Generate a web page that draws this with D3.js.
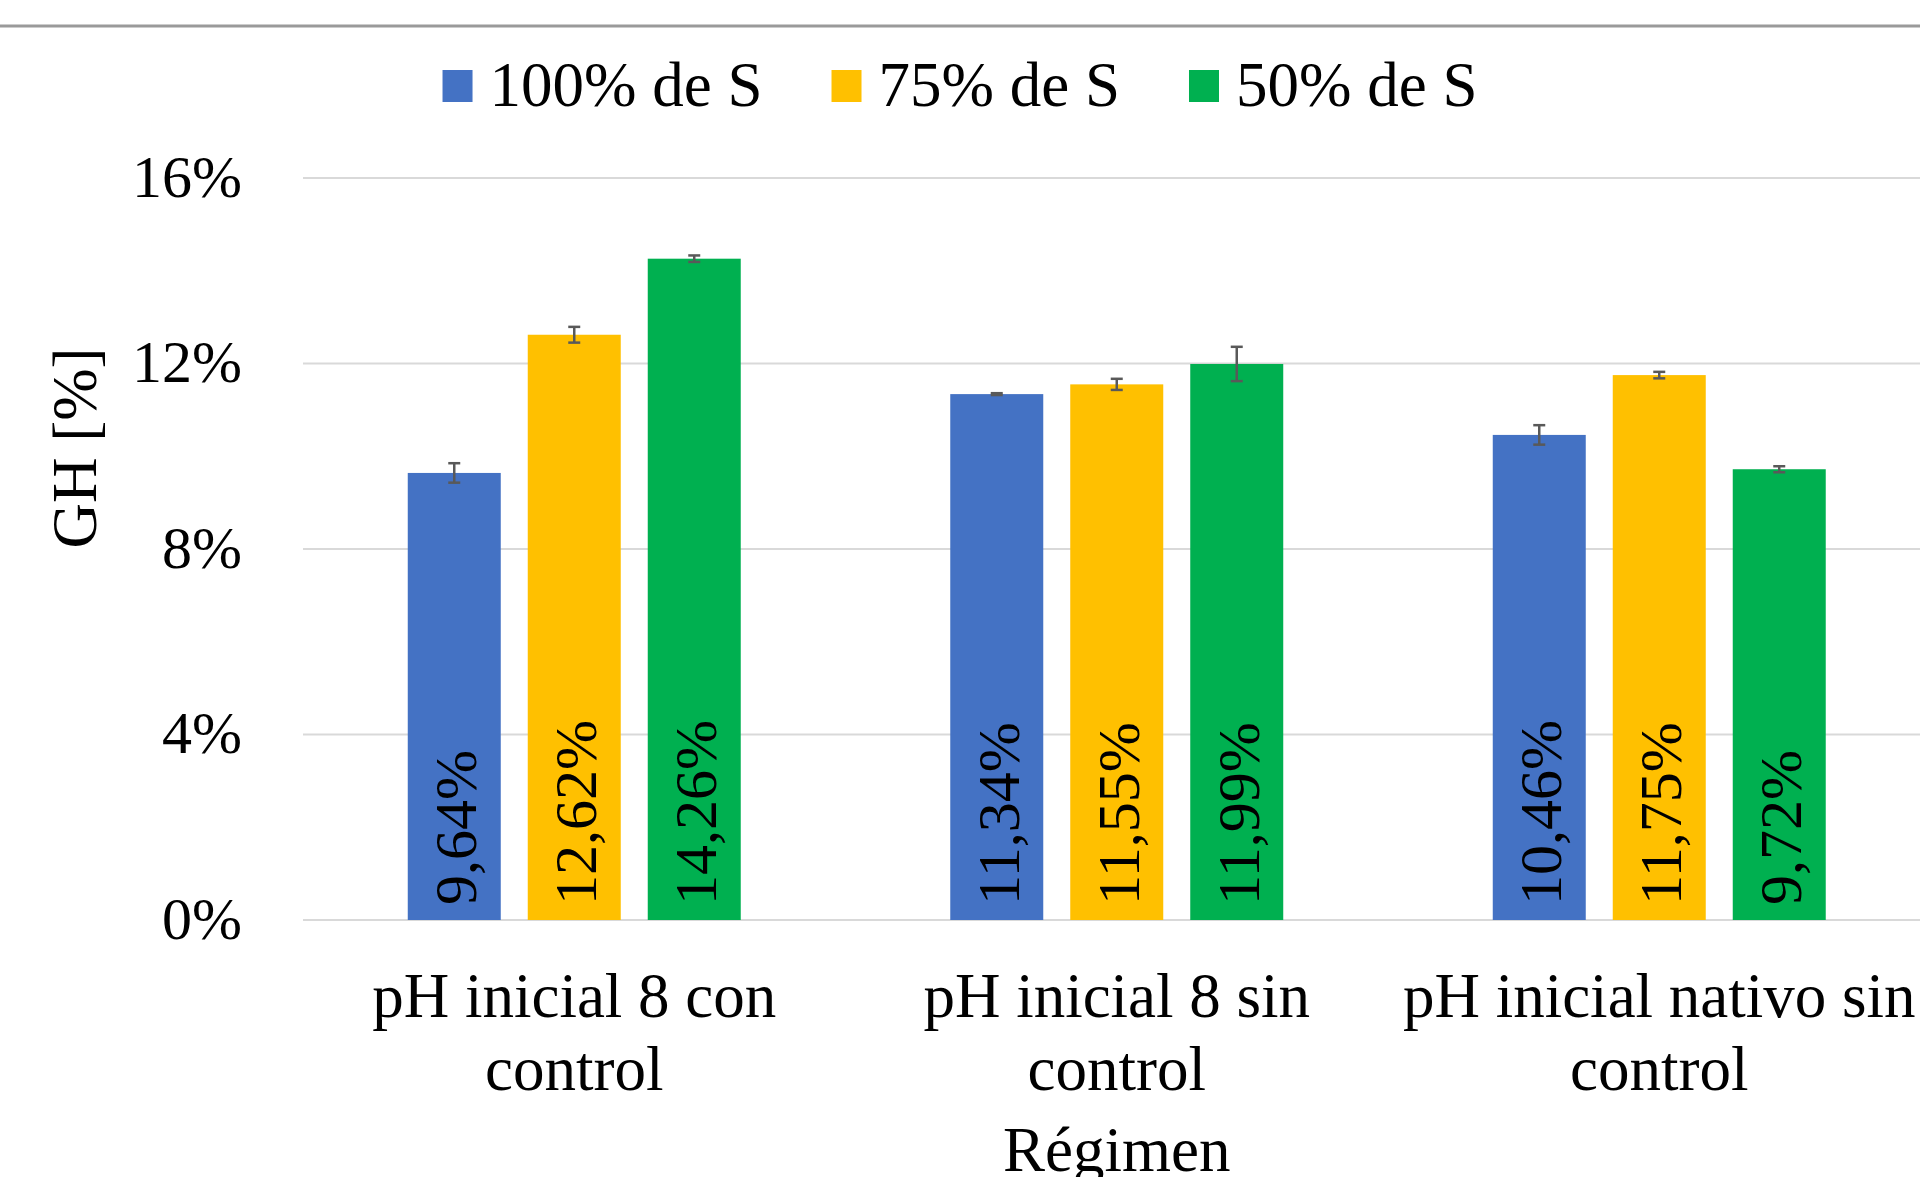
<!DOCTYPE html>
<html>
<head>
<meta charset="utf-8">
<script src="https://cdn.jsdelivr.net/npm/d3@7"></script>
<style>
  html, body { margin: 0; padding: 0; background: #fff; overflow: hidden; }
  svg { display: block; }
  text { font-family: "Liberation Serif", "Times New Roman", serif; fill: #000; }
</style>
</head>
<body>
<svg id="chart" width="1920" height="1177"></svg>
<script>
// ---- data ----
const categories = [
  ["pH inicial 8 con", "control"],
  ["pH inicial 8 sin", "control"],
  ["pH inicial nativo sin", "control"]
];
const seriesNames = ["100% de S", "75% de S", "50% de S"];
const seriesColors = ["#4472C4", "#FFC000", "#00B050"];
const values100 = [9.64, 11.34, 10.46];
const values75 = [12.62, 11.55, 11.75];
const values50 = [14.26, 11.99, 9.72];
const errors100 = [0.21, 0.02, 0.21];
const errors75 = [0.17, 0.12, 0.07];
const errors50 = [0.07, 0.37, 0.065];
const yTicks = [0, 4, 8, 12, 16];
const yTitle = "GH [%]";
const xTitle = "Régimen";

const seriesValues = [values100, values75, values50];
const seriesErrors = [errors100, errors75, errors50];

// ---- layout ----
const svg = d3.select("#chart");
const W = 1920, H = 1177;
svg.append("rect").attr("width", W).attr("height", H).attr("fill", "#fff");

const plotLeft = 303, plotRight = 1930.5, plotTop = 178, plotBottom = 920;

const x0 = d3.scaleBand().domain(d3.range(categories.length))
  .range([plotLeft, plotRight]).paddingInner(0).paddingOuter(0);
const x1 = d3.scaleBand().domain(d3.range(seriesNames.length))
  .range([0, x0.bandwidth()]).paddingInner(0.225).paddingOuter(0.873);
const y = d3.scaleLinear().domain([0, 16]).range([plotBottom, plotTop]);

// top border line
svg.append("line").attr("x1", 0).attr("x2", W).attr("y1", 26).attr("y2", 26)
  .attr("stroke", "#9a9a9a").attr("stroke-width", 3);

// gridlines
const grid = svg.append("g");
grid.selectAll("line").data(yTicks).join("line")
  .attr("x1", plotLeft).attr("x2", plotRight)
  .attr("y1", d => y(d)).attr("y2", d => y(d))
  .attr("stroke", "#D9D9D9").attr("stroke-width", 2.2);

// y axis tick labels
const yAxis = d3.axisLeft(y).tickValues(yTicks).tickFormat(d => d + "%").tickSize(0).tickPadding(0);
const yg = svg.append("g").attr("transform", `translate(242,0)`).call(yAxis);
yg.select(".domain").remove();
yg.selectAll("text").attr("font-size", 60).attr("font-family", "Liberation Serif")
  .attr("fill", "#000").attr("dy", "0.30em");

// y title
svg.append("text").attr("transform", `translate(96,448) rotate(-90)`)
  .attr("text-anchor", "middle").attr("font-size", 63).text(yTitle);

// bars
const groups = svg.append("g").selectAll("g").data(categories).join("g")
  .attr("transform", (d, i) => `translate(${x0(i)},0)`);

groups.each(function(cat, ci) {
  const g = d3.select(this);
  seriesNames.forEach((s, si) => {
    const v = seriesValues[si][ci];
    const e = seriesErrors[si][ci];
    const bx = x1(si), bw = x1.bandwidth(), cx = bx + bw / 2;
    g.append("rect").attr("x", bx).attr("y", y(v)).attr("width", bw)
      .attr("height", y(0) - y(v)).attr("fill", seriesColors[si]);
    // error bar
    const eg = g.append("g").attr("stroke", "#595959").attr("stroke-width", 2.5);
    eg.append("line").attr("x1", cx).attr("x2", cx).attr("y1", y(v + e)).attr("y2", y(v - e));
    eg.append("line").attr("x1", cx - 6).attr("x2", cx + 6).attr("y1", y(v + e)).attr("y2", y(v + e));
    eg.append("line").attr("x1", cx - 6).attr("x2", cx + 6).attr("y1", y(v - e)).attr("y2", y(v - e));
    // label
    g.append("text").attr("transform", `translate(${cx + 22},${y(0) - 15}) rotate(-90)`)
      .attr("text-anchor", "start").attr("font-size", 60)
      .text(v.toFixed(2).replace(".", ",") + "%");
  });
});

// category labels
categories.forEach((lines, ci) => {
  const cx = x0(ci) + x0.bandwidth() / 2;
  const t = svg.append("text").attr("text-anchor", "middle").attr("font-size", 63);
  lines.forEach((ln, li) => {
    t.append("tspan").attr("x", cx).attr("y", 1017 + li * 73).text(ln);
  });
});

// x title
svg.append("text").attr("x", (plotLeft + plotRight) / 2).attr("y", 1171)
  .attr("text-anchor", "middle").attr("font-size", 63).text(xTitle);

// legend
const legend = svg.append("g");
const items = [];
seriesNames.forEach((s, i) => {
  const it = legend.append("g");
  it.append("rect").attr("x", 0).attr("y", 70).attr("width", 30).attr("height", 32).attr("fill", seriesColors[i]);
  const t = it.append("text").attr("x", 47).attr("y", 106).attr("font-size", 63).text(s);
  items.push({ g: it, w: 47 + t.node().getComputedTextLength() });
});
const gap = 69;
const total = d3.sum(items, d => d.w) + gap * (items.length - 1);
let lx = 960 - total / 2;
items.forEach(d => { d.g.attr("transform", `translate(${lx},0)`); lx += d.w + gap; });
</script>
</body>
</html>
